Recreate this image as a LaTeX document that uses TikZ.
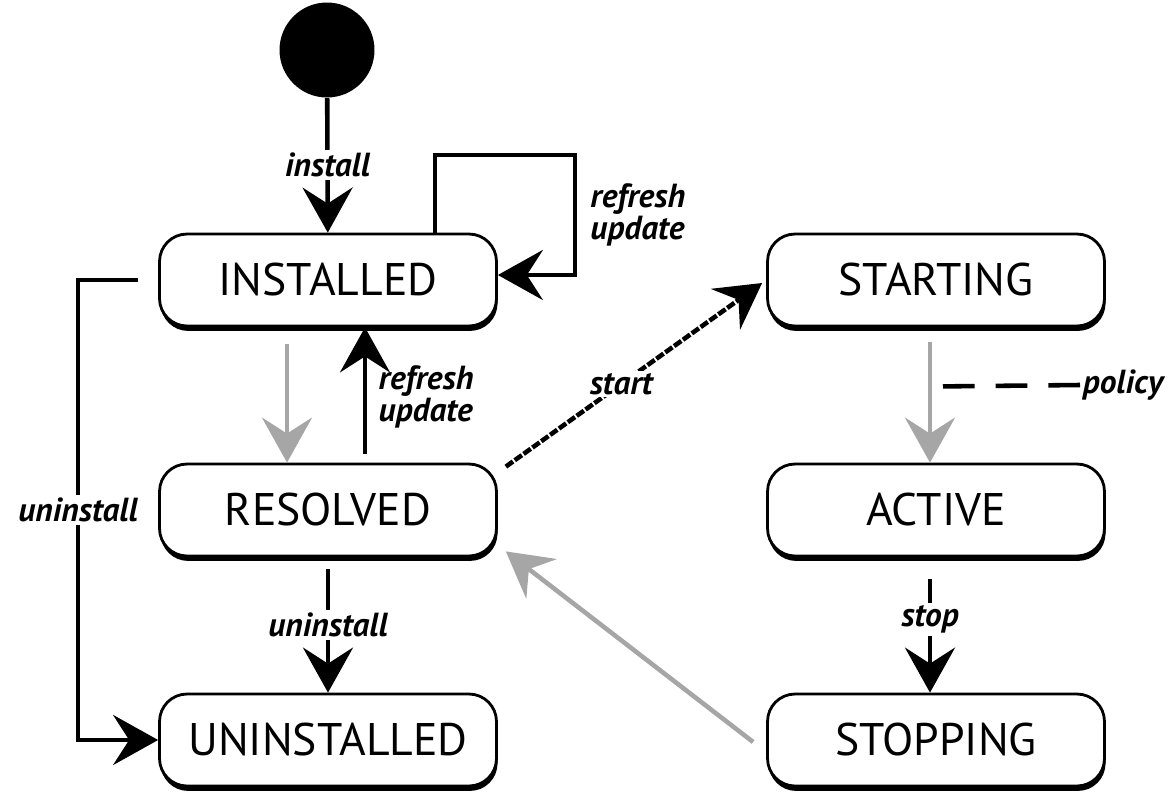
\documentclass[tikz,border=0pt]{standalone}
\usepackage{fontspec}
\setmainfont{PT Sans}
\usetikzlibrary{positioning}
\usetikzlibrary{arrows.meta}
\usetikzlibrary{calc}
\usetikzlibrary{shadows}
\tikzstyle{state} = [draw, line width=1.6pt, rounded corners=0.55cm,
minimum width=6.74cm, minimum height=1.84cm, fill=white,
drop shadow={shadow xshift=0.6pt, shadow yshift=-2.8pt, fill=black, opacity=1},
font=\fontsize{26}{30}\selectfont]
\tikzstyle{line} = [draw, line width=2.6pt, -{Stealth[length=0.9cm, width=1cm, inset=0.32cm]}]

\begin{document}
\begin{tikzpicture}[x=0.02cm, y=-0.02cm,
        initial/.style={circle, fill=black, minimum size=1.9cm, inner sep=0pt},
        lbl/.style={font=\fontsize{19}{17}\selectfont\bfseries\itshape,
            fill=white, inner sep=1.5pt, align=left},
        faded/.style={draw=black!35, -{Stealth[length=0.9cm, width=1cm, inset=0.32cm, fill=black!35]}}]
        \useasboundingbox (0,0) rectangle (1171,792);
        %% States
        \node [initial] at (327,50) (init) {};
        \node [state] at (328,280) (installed) {INSTALLED};
        \node [state] at (328,510) (resolved) {RESOLVED};
        \node [state] at (328,740) (uninstalled) {UNINSTALLED};
        \node [state] at (936,280) (starting) {STARTING};
        \node [state] at (936,510) (active) {ACTIVE};
        \node [state] at (936,740) (stopping) {STOPPING};
        \coordinate (loopTL) at (435,155);
        \coordinate (loopBR) at (575,275);
        \coordinate (ucorner) at (78,740);
        \node [lbl, anchor=west, fill=none] at (1080,385) (policy) {policy};
        %% Transitions
        \path [line] (init) to node [lbl] {install} (installed);
        \path [line] (installed.north -| loopTL) -- (loopTL) -| node [pos=0.75, right=6pt, lbl, fill=none] {refresh\\update} (loopBR) -- (installed.east |- loopBR);
        \path [line, faded] ($(installed.south)+(-41,17)$) to ($(resolved.north)+(-41,0)$);
        \path [line] ($(resolved.north)+(37,-9)$) to node [pos=0.45, right=5pt, lbl, fill=none] {refresh\\update} ($(installed.south)+(37,0)$);
        \path [line] ($(installed.west)+(-20,0)$) -| node [pos=0.75, lbl] {uninstall} (ucorner) -- (uninstalled.west);
        \path [line] ($(resolved.south)+(0,12)$) to node [pos=0.45, lbl] {uninstall} (uninstalled.north);
        \path [line, dash pattern=on 5pt off 1.2pt] ($(resolved.north east)+(8,4)$) to node [pos=0.45, lbl] {start} ($(starting.west)+(-4,3)$);
        \path [line, faded] ($(starting.south)+(-6,15)$) to ($(active.north)+(-6,0)$);
        \path [draw, line width=2.6pt, dash pattern=on 18pt off 12pt] ($(starting.south)+(7,59)$) -- (policy.west);
        \path [line] ($(active.south)+(-6,22)$) to node [pos=0.35, lbl] {stop} ($(stopping.north)+(-6,0)$);
        \path [line, faded] ($(stopping.west)+(-13,2)$) to ($(resolved.south east)+(8,-6)$);
    \end{tikzpicture}
\end{document}
